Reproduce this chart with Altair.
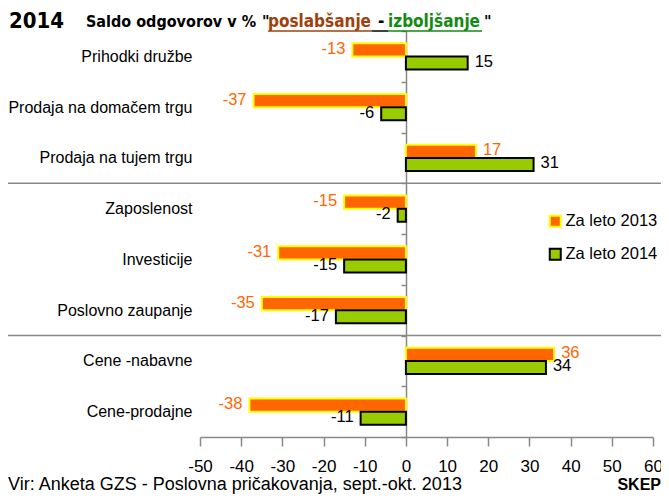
import altair as alt
import pandas as pd

categories = ["Prihodki družbe", "Prodaja na domačem trgu", "Prodaja na tujem trgu",
              "Zaposlenost", "Investicije", "Poslovno zaupanje", "Cene -nabavne", "Cene-prodajne"]
series = ["Za leto 2013", "Za leto 2014"]
v2013 = [-13, -37, 17, -15, -31, -35, 36, -38]
v2014 = [15, -6, 31, -2, -15, -17, 34, -11]
x_ticks = list(range(-50, 61, 10))
separators_before = ["Zaposlenost", "Cene -nabavne"]

rows = []
for c, a, b in zip(categories, v2013, v2014):
    rows.append({"cat": c, "series": series[0], "v": a, "lbl": str(a)})
    rows.append({"cat": c, "series": series[1], "v": b, "lbl": str(b)})
df = pd.DataFrame(rows)

FONT = "Liberation Sans"
TFONT = "DejaVu Sans Condensed, Liberation Sans Narrow, DejaVu Sans"

y_scale = alt.Scale(domain=categories, paddingInner=0, paddingOuter=0)
yoff = alt.YOffset("series:N", sort=series,
                   scale=alt.Scale(domain=series, paddingInner=0, paddingOuter=0.95))
x_scale = alt.Scale(domain=[-50, 60], nice=False)

leg = alt.Legend(title=None, orient="none", legendX=347, legendY=182, symbolType="square",
                 symbolSize=121, symbolStrokeWidth=2, labelFontSize=16.5, labelFont=FONT,
                 labelColor="black", rowPadding=13, labelOffset=2, padding=0)

bars = alt.Chart(df).mark_bar(strokeWidth=2).encode(
    x=alt.X("v:Q", scale=x_scale,
            axis=alt.Axis(values=x_ticks, tickSize=9, grid=False, domainColor="#888",
                          tickColor="#888", labelFontSize=17, labelFont=FONT,
                          labelColor="black", labelPadding=12, title=None,
                          labelFlush=False, labelExpr="toString(datum.value)",
                          domainWidth=1.5, tickWidth=1.5)),
    y=alt.Y("cat:N", sort=categories, scale=y_scale,
            axis=alt.Axis(orient="left", offset=-206, title=None, domainColor="#888",
                          tickColor="#888", tickSize=5, tickBand="extent", labelPadding=209,
                          labelFontSize=16, labelFont=FONT, labelColor="black", labelLimit=0,
                          domainWidth=1.5, tickWidth=1.5)),
    yOffset=yoff,
    fill=alt.Color("series:N", scale=alt.Scale(domain=series, range=["#FF6600", "#99CC00"]),
                   legend=leg),
    stroke=alt.Stroke("series:N", scale=alt.Scale(domain=series, range=["#FFFF00", "#000000"]),
                      legend=leg),
)

label_color = alt.condition(alt.datum.series == series[0], alt.value("#FF6600"), alt.value("black"))

neg_labels = alt.Chart(df).transform_filter(alt.datum.v < 0).mark_text(
    align="right", baseline="middle", dx=-7, dy=-1, fontSize=16.5, font=FONT).encode(
    x=alt.X("v:Q", scale=x_scale),
    y=alt.Y("cat:N", sort=categories, scale=y_scale),
    yOffset=yoff,
    text=alt.Text("lbl:N"),
    color=label_color,
)
pos_labels = alt.Chart(df).transform_filter(alt.datum.v >= 0).mark_text(
    align="left", baseline="middle", dx=7, dy=-1, fontSize=16.5, font=FONT).encode(
    x=alt.X("v:Q", scale=x_scale),
    y=alt.Y("cat:N", sort=categories, scale=y_scale),
    yOffset=yoff,
    text=alt.Text("lbl:N"),
    color=label_color,
)

sep = alt.Chart(pd.DataFrame({"cat": separators_before})).mark_rule(
    color="#888", strokeWidth=1.5).encode(
    y=alt.Y("cat:N", sort=categories, scale=y_scale, bandPosition=0),
    x=alt.value(-200), x2=alt.value(470),
)

one = pd.DataFrame({"k": [0]})


def txt(s, x, y, size, color="black", bold=False, font=FONT, align="left", baseline="alphabetic"):
    return alt.Chart(one).mark_text(
        text=s, align=align, baseline=baseline, fontSize=size, font=font,
        fontWeight="bold" if bold else "normal", color=color).encode(
        x=alt.value(x), y=alt.value(y))


def line(x1, x2, y, color):
    return alt.Chart(one).mark_rule(color=color, strokeWidth=1.5).encode(
        x=alt.value(x1), x2=alt.value(x2), y=alt.value(y))


BROWN = "#A0400A"
GREEN = "#138A13"
title_parts = [
    txt("2014", -191, -3, 22, bold=True, font=TFONT),
    txt("Saldo odgovorov v %", -114, -4, 16, bold=True, font=TFONT),
    txt('"', 62, -4, 16, bold=True, font=TFONT),
    txt("poslabšanje", 68, -4, 17, color=BROWN, bold=True, font=TFONT),
    txt("-", 178, -4, 17, bold=True, font=TFONT),
    txt("izboljšanje", 188, -4, 17, color=GREEN, bold=True, font=TFONT),
    txt('"', 284, -4, 16, bold=True, font=TFONT),
    line(68, 172, 0, BROWN),
    line(172, 188, 0, "black"),
    line(188, 282, 0, GREEN),
    txt("Vir: Anketa GZS - Poslovna pričakovanja, sept.-okt. 2013", -192, 459, 18),
    txt("SKEP", 461, 459, 16, bold=True, align="right"),
]

chart = alt.layer(sep, bars, neg_labels, pos_labels, *title_parts).properties(
    width=453, height=406,
    autosize=alt.AutoSizeParams(type="none"),
    padding={"left": 192, "top": 23, "right": 8, "bottom": 57},
).configure_view(stroke=None)

chart.save("out.html", embed_options={"renderer": "svg", "actions": False})
